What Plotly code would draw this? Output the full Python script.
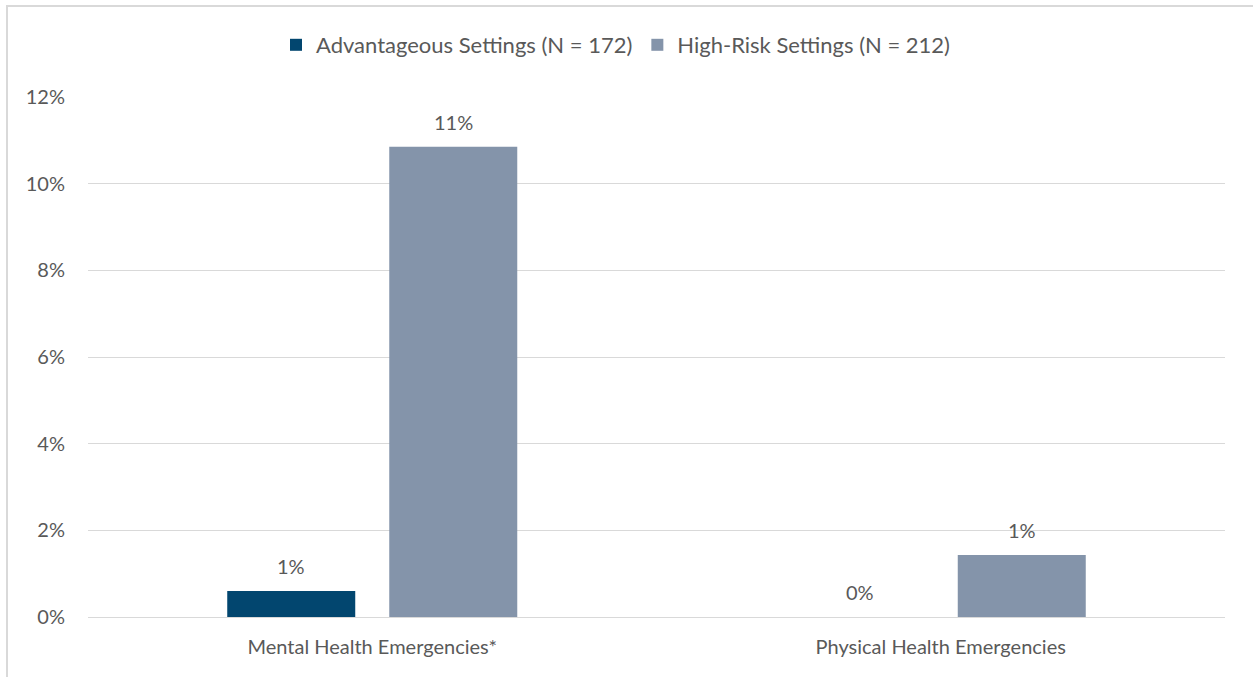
import plotly.graph_objects as go

categories = ["Mental Health Emergencies*", "Physical Health Emergencies"]
series_names = ["Advantageous Settings (N = 172)", "High-Risk Settings (N = 212)"]
advantageous = [0.6, 0.0]
high_risk = [10.85, 1.43]
tick_vals = [0, 2, 4, 6, 8, 10, 12]
tick_text = ["0%", "2%", "4%", "6%", "8%", "10%", "12%"]

colors = ["#02466f", "#8494aa"]
font_family = "Lato, Open Sans, sans-serif"
text_color = "#595959"
fs = 20
bargap = 0.43
bargroupgap = 0.21

fig = go.Figure()
series = [advantageous, high_risk]
for name, vals, col in zip(series_names, series, colors):
    fig.add_trace(go.Bar(
        x=categories, y=vals, name=name, marker_color=col,
        marker_line_width=0, hoverinfo="x+y+name",
    ))

# data labels, positioned at each bar's centre above its top
slot = (1 - bargap) / len(series)
annotations = []
for s_idx, vals in enumerate(series):
    offset = (s_idx - (len(series) - 1) / 2) * slot
    for c_idx, v in enumerate(vals):
        annotations.append(dict(
            x=c_idx + offset, y=v, xref="x", yref="y",
            text=f"{round(v):.0f}%", showarrow=False,
            yanchor="middle", yshift=25,
            font=dict(size=fs, color=text_color, family=font_family),
        ))

W, H = 1253, 677
L, R, T, B = 88, 28, 97, 60
pw, ph = W - L - R, H - T - B

def px_x(p):
    return (p - L) / pw

def px_y(p):
    return (H - B - p) / ph

fig.update_layout(
    width=W, height=H,
    margin=dict(l=L, r=R, t=T, b=B),
    paper_bgcolor="white", plot_bgcolor="white",
    barmode="group", bargap=bargap, bargroupgap=bargroupgap,
    font=dict(family=font_family, size=fs, color=text_color),
    showlegend=True,
    legend=dict(orientation="h", x=px_x(276), xanchor="left", y=px_y(45), yanchor="middle",
                font=dict(size=22, color=text_color), traceorder="normal"),
    xaxis=dict(showline=False, ticks="", ticklabelstandoff=16,
               tickfont=dict(size=fs, color=text_color)),
    yaxis=dict(range=[0, 12], tickvals=tick_vals, ticktext=tick_text,
               showgrid=True, gridcolor="#d9d9d9", gridwidth=1,
               zeroline=True, zerolinecolor="#d9d9d9", zerolinewidth=1,
               showline=False, ticks="", ticklabelstandoff=22,
               tickfont=dict(size=fs, color=text_color)),
    annotations=annotations,
    shapes=[dict(type="rect", xref="paper", yref="paper",
                 x0=px_x(7), x1=px_x(1300), y0=px_y(720), y1=px_y(6),
                 line=dict(color="#d9d9d9", width=2), fillcolor="rgba(0,0,0,0)", layer="below")],
)

fig.write_html("out.html", config={"displayModeBar": False},
               post_script="document.body.style.margin='0';")
